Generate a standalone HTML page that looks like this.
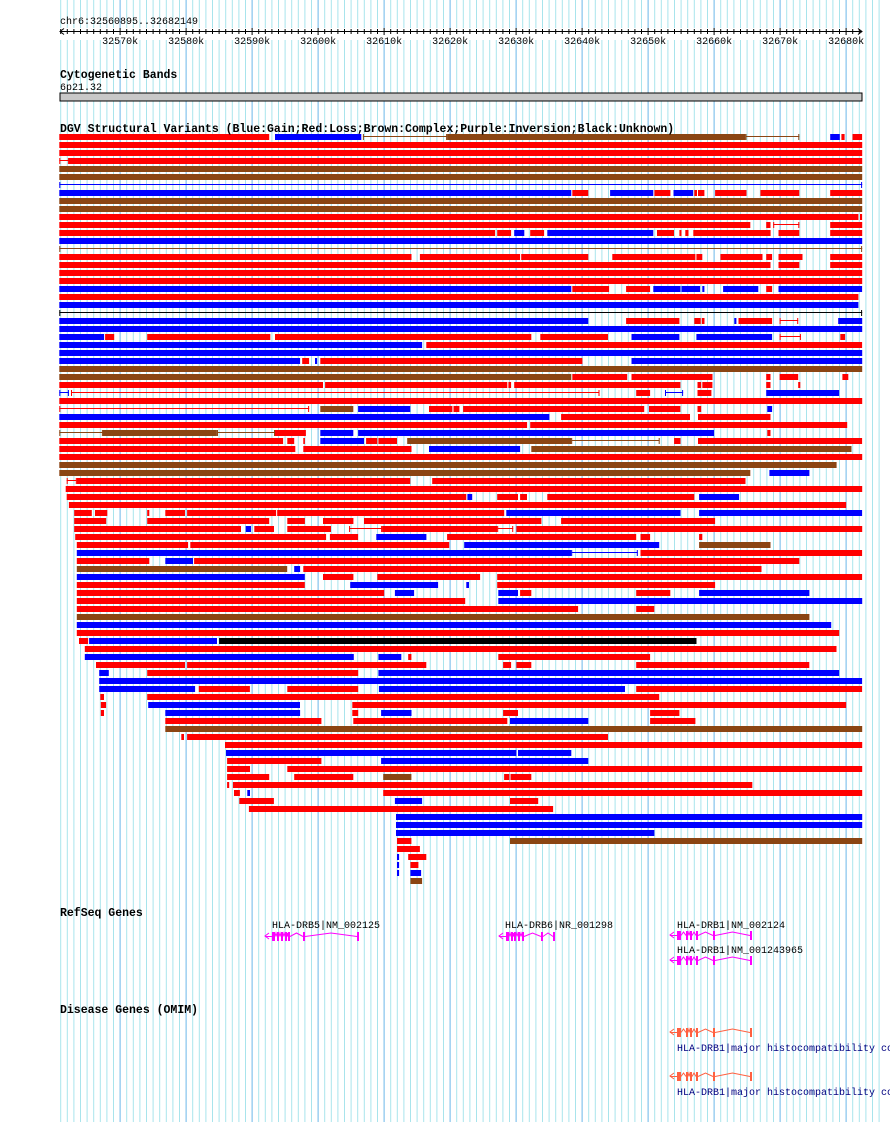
<!DOCTYPE html>
<html><head><meta charset="utf-8">
<style>
html,body{margin:0;padding:0;background:#fff;}
body{width:890px;height:1122px;overflow:hidden;}
svg{display:block;}
text{font-family:"Liberation Mono",monospace;}
</style></head>
<body>
<svg id="s" width="890" height="1122" xmlns="http://www.w3.org/2000/svg">
<g id="grid"></g>
<g id="bars"></g>
<text x="60" y="24" font-size="10">chr6:32560895..32682149</text>
<g id="ruler"></g>
<text x="60" y="78" font-size="11.5" font-weight="bold">Cytogenetic Bands</text>
<text x="60" y="90" font-size="10">6p21.32</text>
<rect x="60" y="93" width="802" height="8" fill="#c8c8c8" stroke="#000" stroke-width="1"/>
<text x="60" y="132" font-size="11.5" font-weight="bold">DGV Structural Variants (Blue:Gain;Red:Loss;Brown:Complex;Purple:Inversion;Black:Unknown)</text>
<text x="60" y="916" font-size="11.5" font-weight="bold">RefSeq Genes</text>
<text x="272" y="928" font-size="10">HLA-DRB5|NM_002125</text>
<text x="505" y="928" font-size="10">HLA-DRB6|NR_001298</text>
<text x="677" y="928" font-size="10">HLA-DRB1|NM_002124</text>
<text x="677" y="953" font-size="10">HLA-DRB1|NM_001243965</text>
<text x="60" y="1013" font-size="11.5" font-weight="bold">Disease Genes (OMIM)</text>
<text x="677" y="1051" font-size="10" fill="#000080">HLA-DRB1|major histocompatibility co</text>
<text x="677" y="1095" font-size="10" fill="#000080">HLA-DRB1|major histocompatibility co</text>
<g id="genes"></g>
</svg>
<script>
var NS="http://www.w3.org/2000/svg";
function el(p,t,a){var e=document.createElementNS(NS,t);for(var k in a)e.setAttribute(k,a[k]);p.appendChild(e);return e;}
var g=document.getElementById('grid');
for(var i=0;i<125;i++){var x=60.7+i*6.6;if(x>890)break;var maj=((32561+i)%10==0);
 el(g,'line',{x1:x.toFixed(1),x2:x.toFixed(1),y1:0,y2:1122,stroke:maj?'#6cb8e8':'#a8e4ec','stroke-width':1});}
// ruler
var r=document.getElementById('ruler');
el(r,'rect',{x:60,y:28,width:802,height:12,fill:'#fff'});
el(r,'line',{x1:60,x2:862,y1:31.5,y2:31.5,stroke:'#000'});
el(r,'path',{d:'M64 28.5 L60 31.5 L64 34.5 M858 28.5 L862 31.5 L858 34.5',stroke:'#000',fill:'none'});
for(var i=0;i<122;i++){var x=60.7+i*6.6;if(x>862)break;var maj=((32561+i)%10==0);
 el(r,'line',{x1:x.toFixed(1),x2:x.toFixed(1),y1:maj?28:29,y2:maj?35:34,stroke:'#000'});
 if(maj){var t=el(r,'text',{x:x.toFixed(1),y:44,'font-size':10,'text-anchor':'middle'});t.textContent=(32561+i)+'k';}}
var C={r:'#ff0000',b:'#0000ff',n:'#8b4513',k:'#000000'};
var rows={
0:"r 8 402,b 413 575,Ln 578 736,n 736 1296,Ln 1296 1397,b 1455 1473,r 1476 1482,r 1497 1515",
1:"r 8 1515",2:"r 8 1515",3:"Lr 8 26,r 26 1515",4:"n 8 1515",5:"n 8 1515",6:"Lb 8 1515",
7:"b 8 969,r 971 1001,b 1042 1123,r 1125 1155,b 1161 1198,r 1200 1205,r 1207 1219,r 1239 1298,r 1324 1397,r 1455 1515",
8:"n 8 1515",9:"n 8 1515",10:"r 8 1508,r 1511 1515",11:"r 8 1305,r 1335 1343,Lr 1348 1397,r 1455 1515",
12:"r 8 826,r 830 856,b 862 881,r 892 918,b 924 1123,r 1130 1162,r 1172 1176,r 1183 1189,r 1198 1343,r 1358 1397,r 1455 1515",
13:"b 8 1515",14:"Ln 8 1515",
15:"r 8 669,r 685 873,r 875 1001,r 1046 1202,r 1204 1215,r 1249 1328,r 1335 1346,r 1358 1403,r 1455 1515",
16:"r 8 1343,r 1358 1397,r 1455 1515",17:"r 8 1515",18:"r 8 1515",
19:"b 8 969,r 971 1040,r 1072 1117,b 1123 1174,b 1176 1211,b 1215 1219,b 1254 1320,r 1335 1346,b 1358 1515",
20:"r 8 1508",21:"b 8 1508",22:"Lk 8 1515",
23:"b 8 1001,r 1072 1172,r 1200 1212,r 1214 1219,b 1275 1279,r 1283 1346,Lr 1360 1395,b 1470 1515",
24:"b 8 1515",
25:"b 8 92,r 94 111,r 173 404,r 413 894,r 911 1038,b 1082 1172,b 1204 1346,Lr 1360 1400,r 1474 1483",
26:"b 8 689,r 697 1515",27:"b 8 1515",28:"b 8 460,r 464 477,b 488 492,r 498 990,b 1082 1515",
29:"n 8 1515",30:"n 8 969,r 971 1074,r 1082 1234,r 1335 1343,r 1360 1395,r 1478 1489",
31:"r 8 503,r 507 849,r 851 856,r 862 1174,r 1206 1213,r 1215 1234,r 1335 1343,r 1395 1399",
32:"Lb 8 26,Lr 30 1022,r 1091 1117,Lb 1145 1179,r 1206 1232,b 1335 1472",
33:"r 8 1515",
34:"Lr 8 477,n 498 560,b 569 667,r 702 746,r 748 759,r 766 1106,r 1115 1174,r 1206 1213,b 1337 1346",
35:"b 8 928,r 950 1192,r 1207 1343",36:"r 8 886,r 892 1487",
37:"Ln 8 90,n 90 304,Ln 304 413,r 413 471,b 498 560,b 569 1237,r 1337 1343",
38:"r 8 428,r 436 449,r 466 469,b 498 580,r 584 605,r 607 642,n 661 969,Ln 969 1135,r 1162 1174,r 1207 1515",
39:"r 8 451,r 466 669,b 702 873,n 894 1495",40:"r 8 1515",41:"n 8 1467",42:"n 8 1305,b 1341 1416",
43:"Lr 22 41,r 41 667,r 708 1296",44:"r 20 1515",
45:"r 22 772,b 774 783,r 830 869,r 873 886,r 924 1200,b 1209 1284",46:"r 26 1485",
47:"r 36 69,r 75 98,r 173 177,r 207 244,r 248 415,r 417 843,b 847 1174,b 1209 1515",
48:"r 36 96,r 173 402,r 436 469,r 503 560,r 580 913,r 950 1239",
49:"r 36 349,b 358 368,r 374 411,r 436 518,Lr 552 614,r 614 830,Lr 830 860,r 866 1515",
50:"r 38 509,r 516 569,b 603 697,r 736 1091,r 1099 1117,r 1209 1215",
51:"r 41 250,r 254 740,b 768 1134,n 1209 1343",52:"b 41 969,Lb 969 1094,r 1099 1515",
53:"r 41 177,b 207 259,r 261 1397",54:"n 41 436,b 449 460,r 466 1326",
55:"b 41 469,r 503 560,r 605 798,r 830 1515",56:"r 41 469,b 554 719,b 772 777,r 830 1239",
57:"r 41 618,b 638 674,b 832 869,r 873 894,r 1091 1155,b 1209 1416",
58:"r 41 770,b 832 1515",59:"r 41 982,r 1091 1125",60:"n 41 1416",61:"b 41 1457",62:"r 41 1472",
63:"r 45 62,b 64 304,k 308 1204",64:"r 56 1467",65:"b 56 561,b 607 650,r 663 669,r 832 1117",
66:"r 77 244,r 248 697,r 841 856,r 866 894,r 1091 1416",67:"b 83 101,r 173 569,b 607 1472",
68:"b 83 1515",69:"b 83 263,r 270 366,r 436 569,b 608 1070,r 1091 1515",70:"r 85 92,r 173 1134",
71:"r 86 96,b 175 460,r 558 1485",72:"r 86 92,b 207 460,r 558 569,b 612 669,r 841 869,r 1117 1172",
73:"r 207 500,r 560 849,b 854 1001,r 1117 1202",74:"n 207 1515",
75:"r 237 242,r 248 1038",76:"r 319 1515",77:"b 321 866,b 869 969",78:"r 323 500,b 612 1001",
79:"r 323 366,r 436 1515",80:"r 323 402,r 449 560,n 616 669,r 843 853,r 855 894",
81:"r 323 327,r 334 1309",82:"r 336 347,b 361 366,r 616 1515",83:"r 346 411,b 638 689,r 854 907",
84:"r 364 935",85:"b 640 1515",86:"b 640 1515",87:"b 640 1125",88:"r 642 669,n 854 1515",
89:"r 642 685",90:"b 642 646,r 663 697",91:"b 642 646,r 667 682",92:"b 642 646,b 667 687",93:"n 667 689"};
var b=document.getElementById('bars');
function X(v){return 55+v/1.877;}
for(var k in rows){var y=134+8*k;rows[k].split(',').forEach(function(s){
 var p=s.trim().split(' ');var t=p[0],x1=X(+p[1]),x2=X(+p[2]);
 if(t[0]=='L'){var c=C[t[1]];el(b,'rect',{x:x1.toFixed(1),y:y+2,width:(x2-x1).toFixed(1),height:1,fill:c});
   el(b,'rect',{x:x1.toFixed(1),y:y,width:1,height:6,fill:c});el(b,'rect',{x:(x2-1).toFixed(1),y:y,width:1,height:6,fill:c});}
 else el(b,'rect',{x:x1.toFixed(1),y:y,width:Math.max(1,x2-x1).toFixed(1),height:6,fill:C[t]});});}
// genes
var G=document.getElementById('genes');
function gene(x0,x1,y,col,ex){
 el(G,'path',{d:'M'+(x0+4)+' '+(y-3)+' L'+x0+' '+y+' L'+(x0+4)+' '+(y+3),stroke:col,fill:'none'});
 el(G,'line',{x1:x0,x2:ex[0][0],y1:y+0.5,y2:y+0.5,stroke:col});
 for(var i=0;i<ex.length;i++){el(G,'rect',{x:ex[i][0],y:y-4,width:ex[i][1],height:9,fill:col});
  if(i<ex.length-1){var a=ex[i][0]+ex[i][1],c=ex[i+1][0],m=(a+c)/2;
   el(G,'polyline',{points:a+','+(y+0.5)+' '+m+','+(y-3)+' '+c+','+(y+0.5),stroke:col,fill:'none'});}}
}
var M='#ff00ff',O='#ff6040';
gene(265,358,936,M,[[272,3],[277,2],[281,2],[285,2],[288,2],[303,2],[357,2]]);
gene(499,555,936,M,[[506,3],[511,2],[514,2],[518,2],[522,2],[541,2],[553,2]]);
gene(670,752,935,M,[[677,4],[686,2],[690,2],[696,2],[713,2],[750,2]]);
gene(670,752,960,M,[[677,4],[686,2],[690,2],[696,2],[713,2],[750,2]]);
gene(670,752,1032,O,[[677,4],[686,2],[690,2],[696,2],[713,2],[750,2]]);
gene(670,752,1076,O,[[677,4],[686,2],[690,2],[696,2],[713,2],[750,2]]);
</script>
</body></html>
